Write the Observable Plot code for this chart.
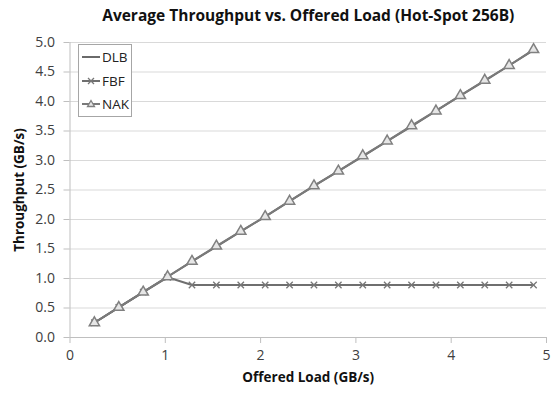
<!DOCTYPE html>
<html><head><meta charset="utf-8">
<script src="https://cdn.jsdelivr.net/npm/d3@7"></script>
<script src="https://cdn.jsdelivr.net/npm/@observablehq/plot@0.6"></script>
<style>
body{margin:0;background:#fff;font-family:"Open Sans",sans-serif;}
#wrap{position:relative;width:555px;height:394px;}
#legend{position:absolute;left:78px;top:44px;width:54px;height:73px;border:1px solid #a6a6a6;background:#fff;box-sizing:border-box;font-size:13.5px;color:#222;}
#legend .row{position:absolute;left:3px;display:flex;align-items:center;}
#legend svg{margin-right:1px;}
</style></head>
<body><div id="wrap"><div id="chart"></div><div id="legend"></div></div>
<script>
const title = "Average Throughput vs. Offered Load (Hot-Spot 256B)";
const xLabel = "Offered Load (GB/s)";
const yLabel = "Throughput (GB/s)";
const seriesNames = ["DLB", "FBF", "NAK"];
const loads = [0.256,0.512,0.768,1.024,1.28,1.536,1.792,2.048,2.304,2.56,2.816,3.072,3.328,3.584,3.84,4.096,4.352,4.608,4.864];
const dlb = [0.25,0.51,0.77,1.03,1.29,1.54,1.80,2.05,2.31,2.57,2.82,3.07,3.33,3.58,3.84,4.10,4.35,4.61,4.87];
const fbf = [0.25,0.51,0.77,1.02,0.89,0.89,0.89,0.89,0.89,0.89,0.89,0.89,0.89,0.89,0.89,0.89,0.89,0.89,0.89];
const nak = [0.25,0.51,0.77,1.03,1.29,1.55,1.80,2.05,2.31,2.57,2.82,3.08,3.33,3.59,3.84,4.10,4.36,4.61,4.88];
const xTicks = [0,1,2,3,4,5];
const yTicks = [0,0.5,1,1.5,2,2.5,3,3.5,4,4.5,5];

const rows = (vals, s) => loads.map((x,i)=>({x, y: vals[i], s}));
const dDLB = rows(dlb,"DLB"), dFBF = rows(fbf,"FBF"), dNAK = rows(nak,"NAK");
const lineColor = "#7a7a7a";

const chart = Plot.plot({
  width: 555, height: 394,
  marginLeft: 69.5, marginRight: 9, marginTop: 42, marginBottom: 57,
  style: {fontFamily: "Open Sans, sans-serif", fontSize: "14px", color: "#404040", background: "#fff"},
  x: {domain: [0,5]},
  y: {domain: [0,5]},
  marks: [
    Plot.gridY(yTicks, {stroke: "#d9d9d9", strokeOpacity: 1}),
    Plot.axisY({ticks: yTicks, tickFormat: d3.format(".1f"), tickSize: 6, tickPadding: 9, stroke: "#bfbfbf", label: yLabel, labelAnchor: "center", labelArrow: "none", labelOffset: 56, fontSize: 14}),
    Plot.axisX({ticks: xTicks, tickFormat: d3.format("d"), tickSize: 6, tickPadding: 7, stroke: "#bfbfbf", label: xLabel, labelAnchor: "center", labelArrow: "none", labelOffset: 44, fontSize: 14}),
    Plot.ruleX([0], {stroke: "#bfbfbf"}),
    Plot.ruleY([0], {stroke: "#bfbfbf"}),
    Plot.lineY(dDLB, {x: "x", y: "y", stroke: "#6a6a6a", strokeWidth: 2}),
    Plot.lineY(dFBF, {x: "x", y: "y", stroke: "#6f6f6f", strokeWidth: 2}),
    Plot.dot(dFBF, {x: "x", y: "y", symbol: "times", r: 3, stroke: "#777", strokeWidth: 1.3}),
    Plot.lineY(dNAK, {x: "x", y: "y", stroke: lineColor, strokeWidth: 2}),
    Plot.dot(dNAK, {x: "x", y: "y", symbol: "triangle", r: 3.8, stroke: "#808080", fill: "#e6e6e6", strokeWidth: 1.5}),
    Plot.text([title], {frameAnchor: "top", dy: -33, fontSize: 15.5, fontWeight: "bold", fill: "#111"})
  ]
});
d3.select(chart).selectAll("g[aria-label='x-axis label'] text, g[aria-label='y-axis label'] text").attr("font-weight","bold").attr("font-size", 13.5).attr("fill","#111");
document.getElementById("chart").append(chart);

const legend = document.getElementById("legend");
const icon = {
  DLB: `<line x1="0" y1="6" x2="18" y2="6" stroke="#6a6a6a" stroke-width="2"/>`,
  FBF: `<line x1="0" y1="6" x2="18" y2="6" stroke="#6f6f6f" stroke-width="2"/><path d="M6,3L12,9M12,3L6,9" stroke="#777" stroke-width="1.3"/>`,
  NAK: `<line x1="0" y1="6" x2="18" y2="6" stroke="${lineColor}" stroke-width="2"/><path d="M9,2.5L12.5,8.5L5.5,8.5Z" stroke="#808080" fill="#e6e6e6" stroke-width="1.3"/>`
};
seriesNames.forEach((n,i)=>{
  const r = document.createElement("div");
  r.className = "row";
  r.style.top = (3 + i*23.5) + "px";
  r.innerHTML = `<svg width="19" height="12">${icon[n]}</svg><span>${n}</span>`;
  legend.append(r);
});
</script></body></html>
